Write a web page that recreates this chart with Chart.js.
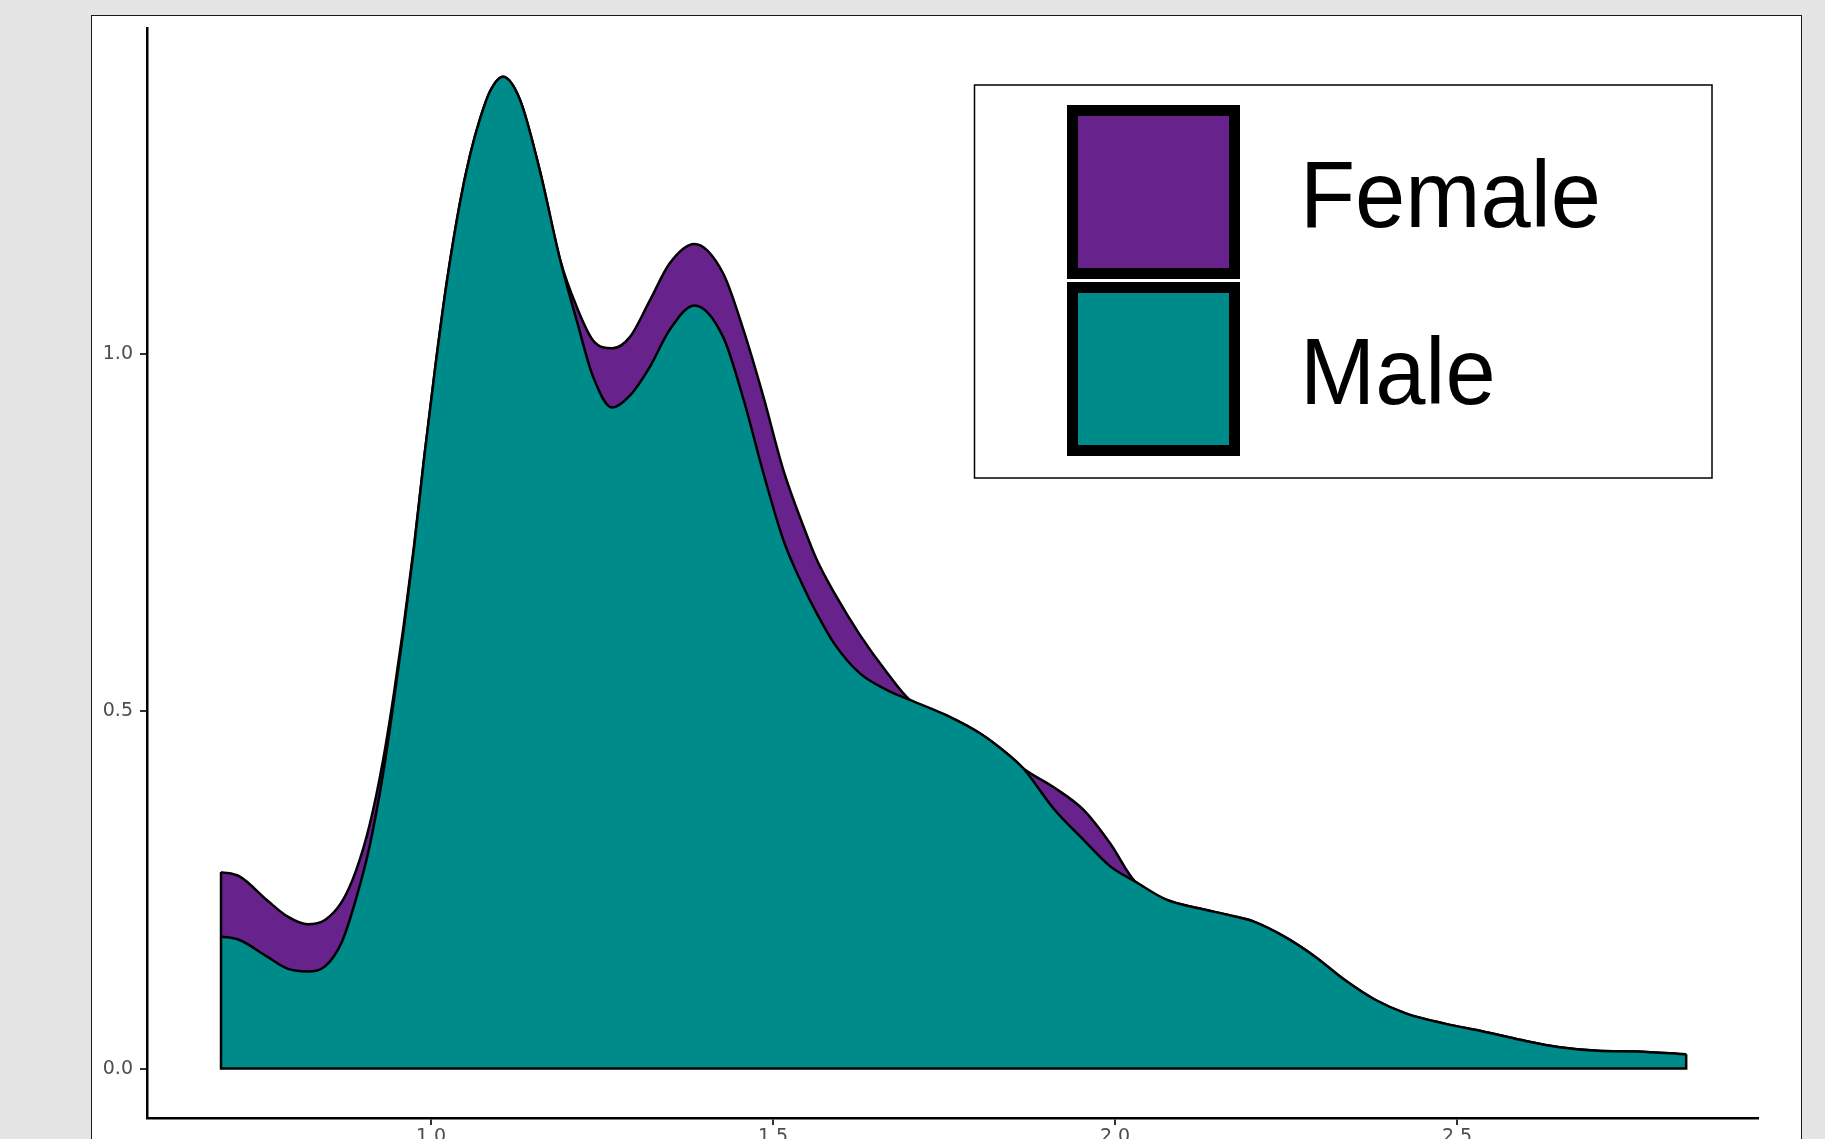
<!DOCTYPE html>
<html lang="en">
<head>
<meta charset="UTF-8">
<title>Density by sex</title>
<script src="https://cdn.jsdelivr.net/npm/chart.js"></script>
<style>
  html, body { margin: 0; padding: 0; background: #e5e5e5; overflow: hidden; }
  #panel {
    position: absolute; left: 91px; top: 15px; width: 1711px; height: 1200px;
    box-sizing: border-box; border: 1.5px solid #1a1a1a; background: #fff;
  }
  #chart { position: absolute; left: 0; top: 0; }
</style>
</head>
<body>
<div id="panel"></div>
<canvas id="chart" width="1825" height="1139"></canvas>

<script>
// values (stacked density, male at bottom)
const xs = [0.693, 0.72, 0.76, 0.79, 0.82, 0.845, 0.87, 0.89, 0.91, 0.93, 0.945, 0.96, 0.975,
  0.99, 1.006, 1.023, 1.042, 1.057, 1.072, 1.086, 1.105, 1.13, 1.159, 1.189, 1.213, 1.237,
  1.265, 1.291, 1.32, 1.349, 1.385, 1.427, 1.457, 1.486, 1.515, 1.544, 1.564, 1.59,
  1.627, 1.666, 1.70, 1.759, 1.803, 1.842, 1.866, 1.91, 1.954, 1.993, 2.029, 2.076,
  2.124, 2.17, 2.202, 2.247, 2.292, 2.336, 2.381, 2.426, 2.482, 2.538, 2.594, 2.65,
  2.706, 2.762, 2.835];

const male = [0.185, 0.180, 0.157, 0.140, 0.136, 0.143, 0.178, 0.236, 0.310, 0.413, 0.510, 0.614, 0.727,
  0.855, 0.980, 1.100, 1.210, 1.278, 1.330, 1.367, 1.388, 1.356, 1.257, 1.131, 1.047, 0.968,
  0.925, 0.942, 0.982, 1.034, 1.068, 1.024, 0.936, 0.833, 0.740, 0.675, 0.637, 0.594,
  0.553, 0.530, 0.516, 0.492, 0.469, 0.441, 0.420, 0.364, 0.320, 0.283, 0.262, 0.236,
  0.224, 0.214, 0.206, 0.185, 0.157, 0.124, 0.096, 0.077, 0.063, 0.052, 0.040, 0.030,
  0.025, 0.024, 0.020];

const female = [0.090, 0.089, 0.079, 0.073, 0.066, 0.065, 0.056, 0.040, 0.030, 0.019, 0.010, 0.006, 0.003,
  0, 0, 0, 0, 0, 0, 0, 0, 0, 0, 0, 0.019, 0.051,
  0.083, 0.082, 0.093, 0.093, 0.086, 0.089, 0.097, 0.107, 0.098, 0.085, 0.075, 0.071,
  0.054, 0.025, 0, 0, 0, 0, 0, 0.030, 0.042, 0.032, 0, 0,
  0, 0, 0, 0, 0, 0, 0, 0, 0, 0, 0, 0,
  0, 0, 0];

const seriesNames = ['Male', 'Female'];
const seriesColors = ['#008B8B', '#68228B'];
const xTicks = [1.0, 1.5, 2.0, 2.5];
const yTicks = [0.0, 0.5, 1.0];

const tickFont = { family: 'DejaVu Sans', size: 19 };

// outline along the baseline and both ends, like geom_density does
const outlinePlugin = {
  id: 'outline',
  afterDatasetsDraw(chart) {
    const ctx = chart.ctx, xa = chart.scales.x, ya = chart.scales.y;
    const n = xs.length - 1;
    const x0 = xa.getPixelForValue(xs[0]), x1 = xa.getPixelForValue(xs[n]);
    const yb = ya.getPixelForValue(0);
    ctx.save();
    ctx.strokeStyle = '#000';
    ctx.lineWidth = 2.5;
    ctx.beginPath();
    ctx.moveTo(x0, ya.getPixelForValue(male[0] + female[0]));
    ctx.lineTo(x0, yb);
    ctx.lineTo(x1, yb);
    ctx.lineTo(x1, ya.getPixelForValue(male[n] + female[n]));
    ctx.stroke();
    ctx.restore();
  }
};

// boxed legend in the top right, Female first
const legendPlugin = {
  id: 'boxLegend',
  afterDraw(chart) {
    const ctx = chart.ctx;
    ctx.save();
    ctx.strokeStyle = '#000';
    ctx.lineWidth = 1.5;
    ctx.strokeRect(974.5, 85, 737.5, 393);
    const keys = chart.data.datasets.slice().reverse();
    const tops = [105, 282];
    const baselines = [227, 404];
    keys.forEach((ds, i) => {
      const t = tops[i];
      ctx.fillStyle = ds.backgroundColor;
      ctx.fillRect(1067, t, 173, 174);
      ctx.lineWidth = 11;
      ctx.strokeRect(1067 + 5.5, t + 5.5, 173 - 11, 174 - 11);
      ctx.save();
      ctx.translate(1300, baselines[i]);
      ctx.scale(0.96, 1);
      ctx.fillStyle = '#000';
      ctx.font = '94px "Liberation Sans", Arial, sans-serif';
      ctx.textBaseline = 'alphabetic';
      ctx.textAlign = 'left';
      ctx.fillText(ds.label, 0, 0);
      ctx.restore();
    });
    ctx.restore();
  }
};

new Chart(document.getElementById('chart'), {
  type: 'line',
  data: {
    datasets: [
      {
        label: seriesNames[0],
        data: male.map((v, i) => ({ x: xs[i], y: v })),
        backgroundColor: seriesColors[0],
        borderColor: '#000',
        borderWidth: 2.5,
        fill: 'origin',
        pointRadius: 0,
        cubicInterpolationMode: 'monotone'
      },
      {
        label: seriesNames[1],
        data: female.map((v, i) => ({ x: xs[i], y: v })),
        backgroundColor: seriesColors[1],
        borderColor: '#000',
        borderWidth: 2.5,
        fill: '-1',
        pointRadius: 0,
        cubicInterpolationMode: 'monotone'
      }
    ]
  },
  options: {
    responsive: false,
    animation: false,
    devicePixelRatio: 1,
    layout: { padding: { left: 0, top: 28, right: 67, bottom: 0 } },
    plugins: { legend: { display: false }, tooltip: { enabled: false } },
    scales: {
      x: {
        type: 'linear',
        min: 0.5848,
        max: 2.940,
        afterFit(s) { s.height = 21; },
        afterBuildTicks(s) { s.ticks = xTicks.map(v => ({ value: v })); },
        ticks: {
          color: '#4d4d4d', font: tickFont, padding: 1, maxRotation: 0, autoSkip: false,
          callback: v => v.toFixed(1)
        },
        grid: { display: true, drawOnChartArea: false, drawTicks: true, tickLength: 7, color: '#333', lineWidth: 2 },
        border: { display: true, color: '#000', width: 2.5 }
      },
      y: {
        type: 'linear',
        stacked: true,
        min: -0.0691,
        max: 1.4562,
        afterFit(s) { s.width = 147; },
        afterBuildTicks(s) { s.ticks = yTicks.map(v => ({ value: v })); },
        ticks: {
          color: '#4d4d4d', font: tickFont, padding: 7,
          callback: v => v.toFixed(1)
        },
        grid: { display: true, drawOnChartArea: false, drawTicks: true, tickLength: 7, color: '#333', lineWidth: 2 },
        border: { display: true, color: '#000', width: 2.5 }
      }
    }
  },
  plugins: [outlinePlugin, legendPlugin]
});
</script>
</body>
</html>
